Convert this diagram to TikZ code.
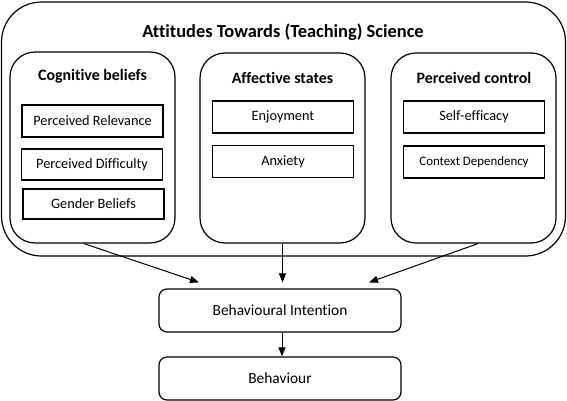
\documentclass[tikz,border=0pt]{standalone}
\usepackage{fontspec}
\setmainfont{Carlito}[Ligatures=NoCommon]
\usetikzlibrary{arrows.meta}
\begin{document}
\begin{tikzpicture}[x=1pt,y=-1pt,
  rbox/.style={draw,line width=1.2pt,rounded corners=#1,inner sep=0pt},
  group/.style={rbox=25pt,minimum width=165pt,minimum height=190pt},
  item/.style={draw,line width=1.7pt,minimum width=141pt,minimum height=32pt,inner sep=0pt,font=\fontsize{14.3}{16}\selectfont},
  head/.style={font=\fontsize{15.9}{18}\bfseries\selectfont},
  flow/.style={rbox=8pt,minimum width=242pt,minimum height=43pt,font=\fontsize{15.4}{18}\selectfont},
  conn/.style={line width=1pt,-{Triangle[length=9pt,width=7pt]}}]
\useasboundingbox (0,0) rectangle (567,401);
% outer box
\node[rbox=40pt,minimum width=564pt,minimum height=254pt] (outer) at (283.5,129) {};
\node[font=\fontsize{18.4}{21}\bfseries\selectfont] (title) at (283,32) {Attitudes Towards (Teaching) Science};
% groups
\node[group,minimum height=191pt] (cog) at (92.5,147.5) {};
\node[group] (aff) at (282.5,148) {};
\node[group] (pc) at (473.5,148) {};
\node[head] (cogt) at (92.5,76) {Cognitive beliefs};
\node[head] (afft) at (282.5,78) {Affective states};
\node[head] (pct) at (474,78) {Perceived control};
% items
\node[item] (pr) at (92.5,121) {Perceived Relevance};
\node[item,minimum height=31pt] (pd) at (92,164.5) {Perceived Difficulty};
\node[item,minimum height=30pt] (gb) at (93.5,204) {Gender Beliefs};
\node[item] (enj) at (283,117) {Enjoyment};
\node[item] (anx) at (283,161.5) {Anxiety};
\node[item] (se) at (474,117) {Self-efficacy};
\node[item,font=\fontsize{12.9}{14}\selectfont] (cd) at (474,162) {\raisebox{1.5pt}{Context Dependency}};
% flow boxes
\node[flow] (bi) at (280,310.5) {Behavioural Intention};
\node[flow] (beh) at (280,378.5) {Behaviour};
% connectors
\draw[conn] ([xshift=-8.5pt]cog.south) -- ([xshift=-81pt,yshift=6pt]bi.north);
\draw[conn] (aff.south) -- ([xshift=2.5pt,yshift=6pt]bi.north);
\draw[conn] ([xshift=4.5pt]pc.south) -- ([xshift=89pt,yshift=6pt]bi.north);
\draw[conn] ([xshift=2pt]bi.south) -- ([xshift=2pt]beh.north);
\end{tikzpicture}
\end{document}
